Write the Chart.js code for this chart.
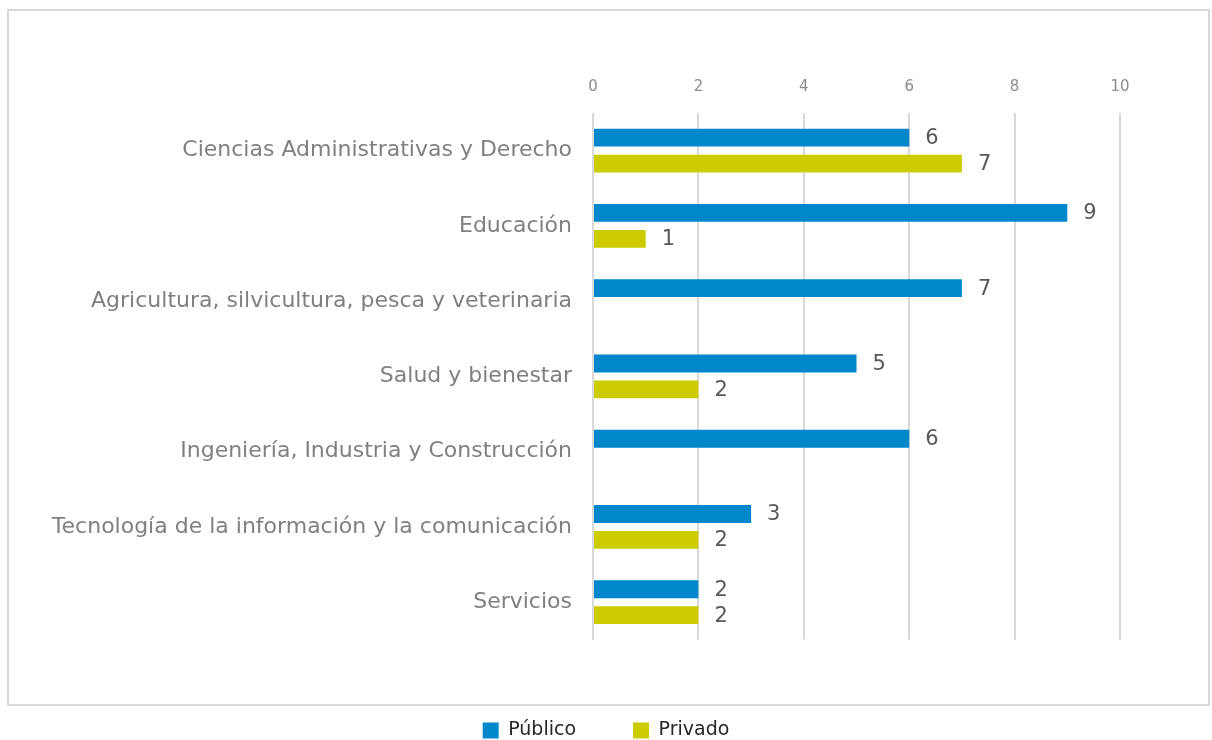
<!DOCTYPE html>
<html>
<head>
<meta charset="utf-8">
<script src="https://cdn.jsdelivr.net/npm/chart.js@4"></script>
<style>
  html, body { margin: 0; padding: 0; background: #fff; }
  body { width: 1212px; height: 740px; position: relative; overflow: hidden; }
  #frame { position: absolute; left: 7px; top: 9px; width: 1203px; height: 697px; border: 2px solid #d9d9d9; box-sizing: border-box; }
  #wrap { position: absolute; left: 0; top: 0; width: 1212px; height: 750px; }
</style>
</head>
<body>
<div id="frame"></div>
<div id="wrap"><canvas id="c" width="1212" height="750"></canvas></div>
<script>
const categories = [
  "Ciencias Administrativas y Derecho",
  "Educación",
  "Agricultura, silvicultura, pesca y veterinaria",
  "Salud y bienestar",
  "Ingeniería, Industria y Construcción",
  "Tecnología de la información y la comunicación",
  "Servicios"
];
const publico = [6, 9, 7, 5, 6, 3, 2];
const privado = [7, 1, null, 2, null, 2, 2];
const seriesNames = ["Público", "Privado"];
const tickValues = [0, 2, 4, 6, 8, 10];

const FONT = "'DejaVu Sans', sans-serif";

const valueLabels = {
  id: 'valueLabels',
  afterDatasetsDraw(chart) {
    const ctx = chart.ctx;
    ctx.save();
    ctx.font = "21px " + FONT;
    ctx.fillStyle = "#595959";
    ctx.textAlign = "left";
    ctx.textBaseline = "middle";
    chart.data.datasets.forEach((ds, di) => {
      const meta = chart.getDatasetMeta(di);
      meta.data.forEach((el, i) => {
        const v = ds.data[i];
        if (v === null || v === undefined) return;
        ctx.fillText(String(v), el.x + 16, el.y + 1);
      });
    });
    ctx.restore();
  }
};

new Chart(document.getElementById('c'), {
  type: 'bar',
  data: {
    labels: categories,
    datasets: [
      { label: seriesNames[0], data: publico, backgroundColor: '#0087cb', borderWidth: 0 },
      { label: seriesNames[1], data: privado, backgroundColor: '#cccc00', borderWidth: 0 }
    ]
  },
  options: {
    indexAxis: 'y',
    responsive: false,
    animation: false,
    devicePixelRatio: 1,
    layout: { padding: 0 },
    datasets: { bar: { categoryPercentage: 0.69, barPercentage: 0.69 } },
    scales: {
      x: {
        position: 'top',
        min: 0, max: 10,
        afterBuildTicks: (s) => { s.ticks = tickValues.map(v => ({ value: v })); },
        afterFit: (s) => { s.height = 113; },
        grid: { color: '#d9d9d9', lineWidth: 2, drawTicks: false },
        border: { display: false },
        ticks: { color: '#8c8c8c', font: { family: FONT, size: 15 }, padding: 17 }
      },
      y: {
        afterFit: (s) => { s.width = 593; },
        grid: { display: false, drawTicks: false },
        border: { display: false },
        ticks: { color: '#808080', font: { family: FONT, size: 22 }, padding: 21, autoSkip: false }
      },
      yRight: {
        type: 'category',
        axis: 'y',
        position: 'right',
        afterFit: (s) => { s.width = 92; },
        grid: { display: false, drawTicks: false },
        border: { display: false },
        ticks: { display: false }
      }
    },
    plugins: {
      tooltip: { enabled: false },
      legend: {
        position: 'bottom',
        title: { display: true, text: '', font: { size: 1 }, padding: { top: 0, bottom: 23 } },
        labels: {
          boxWidth: 16, boxHeight: 16, padding: 57,
          color: '#262626',
          font: { family: FONT, size: 19 }
        }
      }
    }
  },
  plugins: [valueLabels]
});
</script>
</body>
</html>
